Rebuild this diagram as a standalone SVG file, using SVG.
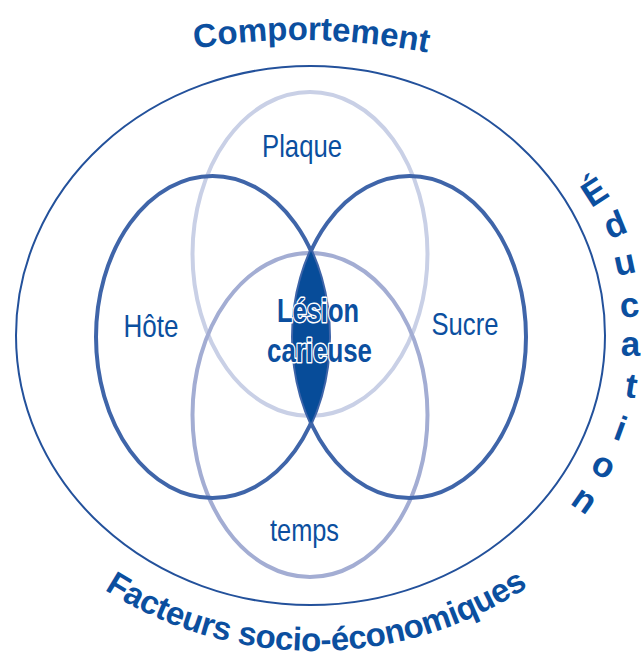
<svg xmlns="http://www.w3.org/2000/svg" width="641" height="661" viewBox="0 0 641 661">
  <style>
    .ring { fill: none; }
    .outer { stroke: #23519b; stroke-width: 2; }
    .strong { stroke: #3f65a9; stroke-width: 4; }
    .pale { stroke: #c9d0e6; stroke-width: 4; }
    .mid { stroke: #a3add3; stroke-width: 4; }
    .lbl { font-family: "Liberation Sans", Arial, sans-serif; font-size: 32px; fill: #0b4f9f; }
    .core { font-family: "Liberation Sans", Arial, sans-serif; font-size: 34px; font-weight: bold; fill: #0b4f9f; stroke: #ffffff; stroke-width: 3; paint-order: stroke; stroke-linejoin: round; }
    .ring-txt { font-family: "Liberation Sans", Arial, sans-serif; font-weight: bold; fill: #0b4f9f; }
  </style>
  <defs>
    <path id="arcTop" d="M150 57.5 A650 650 0 0 1 470 62.6"/>
    <path id="arcBottom" d="M74.5 568.5 A389 389 0 0 0 553.5 568.5"/>
  </defs>

  <!-- outer boundary -->
  <g id="outer">
    <ellipse class="ring outer" cx="310.5" cy="335.5" rx="294.5" ry="269.5"/>
  </g>

  <!-- four overlapping factor ovals -->
  <g id="plaque">
    <ellipse class="ring pale" cx="310" cy="254" rx="117.5" ry="162"/>
  </g>
  <g id="temps">
    <ellipse class="ring mid" cx="310" cy="415" rx="117.5" ry="162"/>
  </g>
  <g id="hote">
    <ellipse class="ring strong" cx="212.5" cy="337" rx="116.5" ry="161"/>
  </g>
  <g id="sucre">
    <ellipse class="ring strong" cx="409.5" cy="337" rx="116.5" ry="161"/>
  </g>

  <!-- shared region of host and sugar -->
  <g id="lesion">
    <path d="M311 251 A116.5 161 0 0 1 311 423 A116.5 161 0 0 1 311 251 Z" fill="#074c99"/>
    <text class="core" x="277" y="321.7" textLength="82" lengthAdjust="spacingAndGlyphs">Lésion</text>
    <text class="core" x="267" y="361.7" textLength="105" lengthAdjust="spacingAndGlyphs">carieuse</text>
  </g>

  <!-- oval labels -->
  <g id="labels">
    <text class="lbl" x="262" y="156.7" textLength="80" lengthAdjust="spacingAndGlyphs">Plaque</text>
    <text class="lbl" x="123.5" y="336.7" textLength="55" lengthAdjust="spacingAndGlyphs">Hôte</text>
    <text class="lbl" x="431.5" y="335" textLength="67" lengthAdjust="spacingAndGlyphs">Sucre</text>
    <text class="lbl" x="270" y="541" textLength="69" lengthAdjust="spacingAndGlyphs">temps</text>
  </g>

  <!-- surrounding modifiers -->
  <g id="comportement">
    <text class="ring-txt" font-size="33"><textPath href="#arcTop" startOffset="45.8" textLength="234" lengthAdjust="spacing">Comportement</textPath></text>
  </g>

  <g id="education" class="ring-txt" font-size="35" text-anchor="middle">
    <text x="601" y="202" transform="rotate(-33 601 202)">É</text>
    <text x="619.5" y="235.5" transform="rotate(-22 619.5 235.5)">d</text>
    <text x="627" y="274" transform="rotate(-12 627 274)">u</text>
    <text x="630.5" y="317" transform="rotate(-5 630.5 317)">c</text>
    <text x="630.5" y="356" transform="rotate(0 630.5 356)">a</text>
    <text x="629.5" y="397.5" transform="rotate(9 629.5 397.5)">t</text>
    <text x="616.5" y="440" transform="rotate(20 616.5 440)">i</text>
    <text x="598.5" y="475.5" transform="rotate(27 598.5 475.5)">o</text>
    <text x="578" y="509.5" transform="rotate(35 578 509.5)">n</text>
  </g>

  <g id="facteurs">
    <text class="ring-txt" font-size="33"><textPath href="#arcBottom" startOffset="36.7" textLength="448" lengthAdjust="spacing">Facteurs socio-économiques</textPath></text>
  </g>
</svg>
